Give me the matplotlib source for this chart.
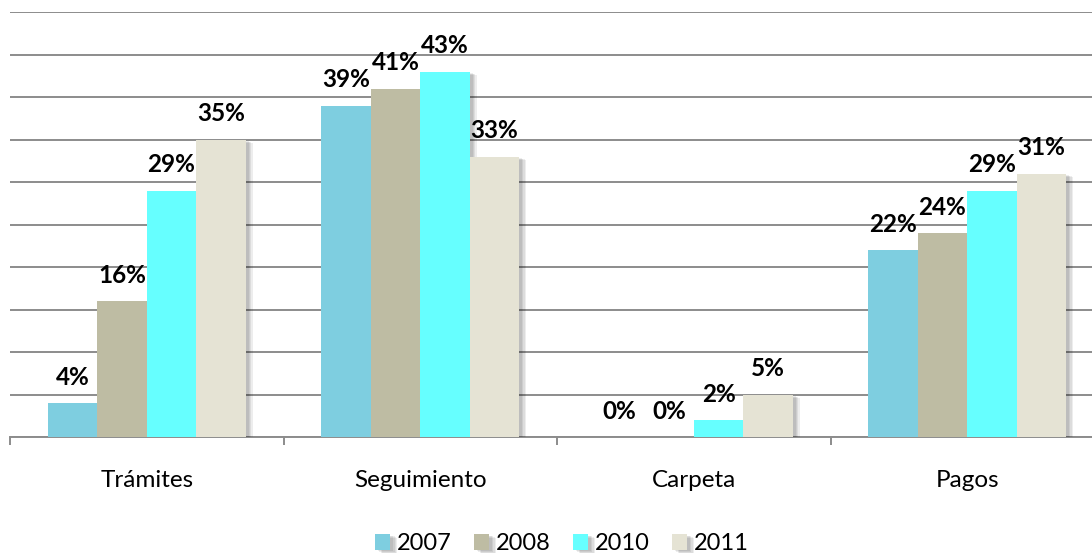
import matplotlib
matplotlib.use("Agg")
import matplotlib.pyplot as plt
import matplotlib.patheffects as pe
import numpy as np

categories = ["Trámites", "Seguimiento", "Carpeta", "Pagos"]
series_names = ["2007", "2008", "2010", "2011"]
v2007 = [4, 39, 0, 22]
v2008 = [16, 41, 0, 24]
v2010 = [29, 43, 2, 29]
v2011 = [35, 33, 5, 31]
colors = ["#7ECEE0", "#BEBCA3", "#66FFFF", "#E5E3D4"]

plt.rcParams['font.family'] = ['Lato', 'DejaVu Sans']

W, H = 1092, 556
fig = plt.figure(figsize=(W / 100, H / 100), dpi=100)
ax = fig.add_axes([10 / W, (H - 437) / H, 1094 / W, 425 / H])

values = [v2007, v2008, v2010, v2011]
x = np.arange(len(categories))
bw = 0.181
shadow = [pe.SimplePatchShadow(offset=(o, -o * 0.5), shadow_rgbFace='black', alpha=0.07)
          for o in (5, 4, 3, 2)] + [pe.Normal()]
for i, (vals, name, c) in enumerate(zip(values, series_names, colors)):
    pos = x + (i - 1.5) * bw
    bars = ax.bar(pos, vals, width=bw, color=c, label=name, zorder=3)
    for b in bars:
        b.set_path_effects(shadow)
    for p, v in zip(pos, vals):
        ax.annotate(f"{v}%", (p, v), xytext=(0, 13), textcoords="offset points",
                    ha="center", va="baseline", fontsize=17.5, fontweight="bold",
                    color="black", zorder=5)

ax.set_xlim(-0.5, 3.5)
ax.set_ylim(0, 50)
ax.set_yticks(np.arange(0, 51, 5))
ax.yaxis.grid(True, color="#8C8C8C", linewidth=1.4, zorder=0)
ax.set_axisbelow(True)
ax.tick_params(axis="y", left=False, labelleft=False)
for s in ["left", "right", "top"]:
    ax.spines[s].set_visible(False)
ax.spines["bottom"].set_color("#8C8C8C")
ax.spines["bottom"].set_linewidth(1.4)
ax.set_xticks(np.arange(-0.5, 4, 1))
ax.set_xticklabels([])
ax.tick_params(axis="x", length=6, width=1.4, color="#8C8C8C")
ax.set_xticks(x, minor=True)
ax.set_xticklabels(categories, minor=True, fontsize=17.5)
ax.tick_params(axis="x", which="minor", length=0, pad=24)

handles, labels = ax.get_legend_handles_labels()
fig.legend(handles, labels, loc="center", bbox_to_anchor=(562 / W, 1 - 544 / H),
           ncol=4, frameon=False, fontsize=17, handlelength=0.64, handleheight=0.64,
           handletextpad=0.28, columnspacing=0.95, borderpad=0.1)

fig.savefig("out.png", dpi=100)
